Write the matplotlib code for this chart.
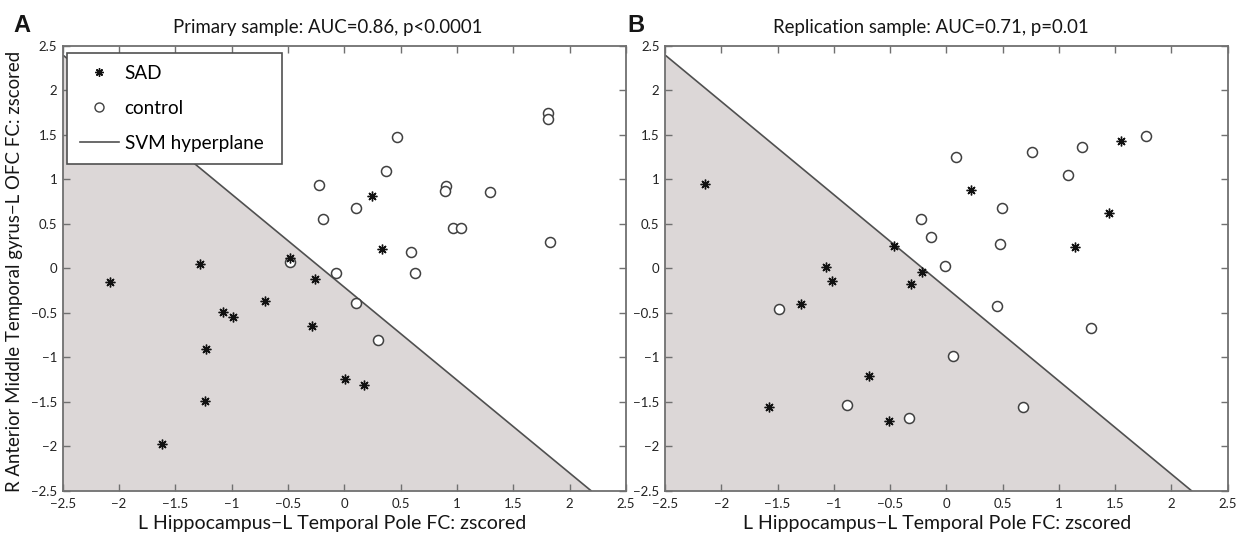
import matplotlib
matplotlib.use("Agg")
import matplotlib.pyplot as plt
from matplotlib.lines import Line2D

plt.rcParams['font.family'] = ['Lato', 'DejaVu Sans']
plt.rcParams['axes.unicode_minus'] = True

# ---- Primary sample ----
primary_sad_x = [-2.08, -1.28, -0.48, -0.258, -0.70, -1.078, -0.984, -0.287,
                 -1.227, -1.236, -1.615, 0.003, 0.178, 0.246, 0.335]
primary_sad_y = [-0.157, 0.048, 0.12, -0.12, -0.364, -0.494, -0.544, -0.652,
                 -0.91, -1.49, -1.97, -1.247, -1.308, 0.816, 0.213]
primary_ctrl_x = [-0.48, -0.071, 0.104, 0.30, -0.222, -0.19, 0.101, 0.37, 0.468,
                  0.59, 0.625, 0.904, 0.892, 1.292, 0.96, 1.031, 1.81, 1.81, 1.822]
primary_ctrl_y = [0.074, -0.056, -0.393, -0.806, 0.936, 0.55, 0.674, 1.093, 1.479,
                  0.187, -0.049, 0.928, 0.868, 0.861, 0.449, 0.449, 1.749, 1.678, 0.292]
# hyperplane as y = slope * x + intercept
primary_slope, primary_intercept = -1.045, -0.212

# ---- Replication sample ----
replication_sad_x = [-2.148, -0.468, -1.073, -0.213, -1.017, -1.289, -0.311,
                     -0.688, -1.58, -0.507, 0.222, 1.556, 1.449, 1.143]
replication_sad_y = [0.943, 0.254, 0.018, -0.038, -0.143, -0.401, -0.176,
                     -1.207, -1.562, -1.712, 0.88, 1.427, 0.621, 0.239]
replication_ctrl_x = [-0.228, -0.133, -0.015, 0.083, -1.488, 0.059, -0.884, -0.335,
                      0.761, 1.209, 1.778, 1.078, 0.494, 0.474, 0.453, 1.283, 0.684]
replication_ctrl_y = [0.56, 0.352, 0.03, 1.254, -0.457, -0.98, -1.532, -1.678,
                      1.31, 1.366, 1.487, 1.048, 0.674, 0.27, -0.427, -0.674, -1.555]
replication_slope, replication_intercept = -1.047, -0.218

titles = ["Primary sample: AUC=0.86, p<0.0001", "Replication sample: AUC=0.71, p=0.01"]
panel_letters = ["A", "B"]
xlabel_text = "L Hippocampus\u2212L Temporal Pole FC: zscored"
ylabel_text = "R Anterior Middle Temporal gyrus\u2212L OFC FC: zscored"
legend_labels = ["SAD", "control", "SVM hyperplane"]
tick_values = [-2.5, -2, -1.5, -1, -0.5, 0, 0.5, 1, 1.5, 2, 2.5]
tick_labels = ["\u22122.5", "\u22122", "\u22121.5", "\u22121", "\u22120.5", "0",
               "0.5", "1", "1.5", "2", "2.5"]

LIM = (-2.5, 2.5)
SHADE = "#dcd7d7"
SPINE = "#707070"
HYPER = "#505050"
INK = "#151515"
W, H = 1247, 536

fig = plt.figure(figsize=(W / 100, H / 100), dpi=100)


def fx(px):
    return px / W


def fy(py):
    return 1 - py / H


def px_axes(left, top, right, bottom):
    return fig.add_axes([fx(left), fy(bottom), (right - left) / W, (bottom - top) / H])


def draw_panel(ax, sad_x, sad_y, ctrl_x, ctrl_y, slope, intercept):
    lo, hi = LIM
    # region on the SAD side of the hyperplane
    y_left = slope * lo + intercept
    x_bottom = (lo - intercept) / slope
    ax.fill([lo, lo, x_bottom], [lo, min(y_left, hi), lo], color=SHADE, lw=0, zorder=1)
    ax.plot([lo, x_bottom], [y_left, lo], color=HYPER, lw=1.2, zorder=2)
    ax.plot(ctrl_x, ctrl_y, ls="none", marker="o", ms=7.2, mfc="white",
            mec="#404040", mew=1.1, zorder=3)
    ax.plot(sad_x, sad_y, ls="none", marker=(8, 2, 0), ms=7, mec="#111111",
            mew=1.0, zorder=4)
    ax.set_xlim(LIM)
    ax.set_ylim(LIM)
    ax.set_xticks(tick_values)
    ax.set_yticks(tick_values)
    ax.set_xticklabels(tick_labels)
    ax.set_yticklabels(tick_labels)
    ax.tick_params(direction="in", length=5, width=1, color=SPINE, top=True, right=True,
                   labelsize=9.5, labelcolor="#222222")
    ax.tick_params(axis="x", pad=5)
    ax.tick_params(axis="y", pad=4)
    for s in ax.spines.values():
        s.set_color(SPINE)
        s.set_linewidth(1.3)


axA = px_axes(62.7, 46, 626, 490.7)
axB = px_axes(665, 46, 1227.5, 490.7)

draw_panel(axA, primary_sad_x, primary_sad_y, primary_ctrl_x, primary_ctrl_y,
           primary_slope, primary_intercept)
draw_panel(axB, replication_sad_x, replication_sad_y, replication_ctrl_x,
           replication_ctrl_y, replication_slope, replication_intercept)

# titles, panel letters and x labels (left-aligned anchors in pixels)
for title, tx, letter, lx, xl in [(titles[0], 173, panel_letters[0], 13, 138.5),
                                  (titles[1], 773, panel_letters[1], 627, 743)]:
    fig.text(fx(tx), fy(33), title, ha="left", va="baseline", fontsize=13.4, color=INK)
    fig.text(fx(lx), fy(32.5), letter, ha="left", va="baseline", fontsize=17,
             fontweight="bold", family=["Liberation Sans", "DejaVu Sans"], color=INK)
    fig.text(fx(xl), fy(529), xlabel_text, ha="left", va="baseline",
             fontsize=14, color=INK)

fig.text(fx(14.5), fy(271), ylabel_text, ha="center", va="center",
         rotation=90, fontsize=13.4, color=INK)

handles = [
    Line2D([], [], ls="none", marker=(8, 2, 0), ms=6, mec="#111111", mew=1.0),
    Line2D([], [], ls="none", marker="o", ms=6.5, mfc="white", mec="#404040", mew=1.0),
    Line2D([], [], color=HYPER, lw=1.2),
]
# legend box: pixel extents converted to axes fractions of panel A
ax_w, ax_h = 626 - 62.7, 490.7 - 46
leg_box = ((67.3 - 62.7) / ax_w, (490.7 - 160) / ax_h,
           (281.7 - 67.3) / ax_w, (160 - 52.7) / ax_h)
leg = axA.legend(handles, legend_labels, loc="upper left", bbox_to_anchor=leg_box,
                 mode="expand", borderaxespad=0, fontsize=13.6, frameon=True,
                 fancybox=False, framealpha=1, edgecolor="#505050", handlelength=2.1,
                 handletextpad=0.28, labelspacing=0.95, borderpad=0.65)
leg.get_frame().set_linewidth(1.2)
leg.set_zorder(10)

fig.savefig("out.png", dpi=100)
